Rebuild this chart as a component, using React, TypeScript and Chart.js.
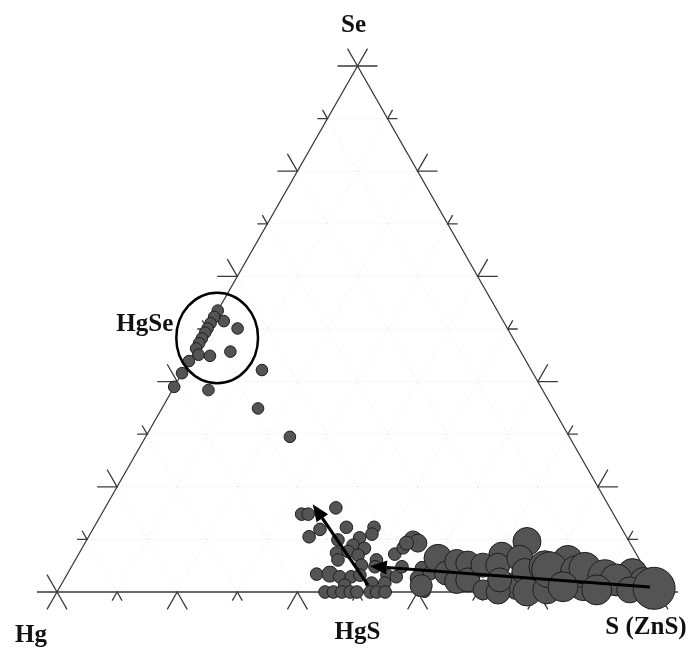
import React, { useEffect, useRef } from "react";
import { Chart, registerables } from "chart.js";
Chart.register(...registerables);

// Ternary composition (fractions): Se, S (Hg = 1 - Se - S), and bubble radius
const seFrac = [
  0.535, 0.515, 0.501, 0.523, 0.511, 0.501, 0.493, 0.482, 0.473, 0.463, 0.451, 0.449, 0.457, 0.439, 0.416, 0.39, 0.384, 0.422, 0.349, 0.295,
  0.148, 0.148, 0.16, 0.105, 0.119, 0.123, 0.123, 0.11, 0.099, 0.103, 0.089, 0.083, 0.074, 0.061, 0.077, 0.07, 0.051, 0.034, 0.034, 0.029, 0.029, 0.032, 0.061, 0.048, 0.032, 0.017, 0.029, 0.017, 0.013,
  0, 0, 0, 0, 0, 0, 0, 0,
  0.072, 0.084, 0.099, 0.093, 0.093, 0.048, 0.045, 0.026, 0.036, 0,
  0.012, 0.07, 0.012, 0.06, 0.012, 0.035,
  0.064, 0.036, 0.02, 0.058, 0.055, 0.023, 0.051, 0.004, 0.051, 0, 0.023, 0.096, 0.064, 0.039, 0, 0.048, 0.004, 0.042, 0.039, 0.045, 0.029, 0.023, 0.01, 0.004, 0.02, 0.004, 0.007,
];
const sFrac = [
  0, 0.02, 0.05, 0, 0, 0, 0, 0, 0, 0, 0.01, 0.03, 0.06, 0, 0, 0, 0.06, 0.13, 0.16, 0.24,
  0.333, 0.344, 0.384, 0.367, 0.378, 0.42, 0.466, 0.469, 0.418, 0.452, 0.448, 0.47, 0.428, 0.437, 0.446, 0.466, 0.481, 0.415, 0.437, 0.456, 0.475, 0.488, 0.501, 0.505, 0.533, 0.537, 0.55, 0.515, 0.472,
  0.446, 0.46, 0.474, 0.488, 0.499, 0.521, 0.532, 0.546,
  0.526, 0.534, 0.543, 0.554, 0.535, 0.55, 0.585, 0.588, 0.603, 0.612,
  0.6, 0.705, 0.76, 0.82, 0.87, 0.94,
  0.602, 0.63, 0.655, 0.636, 0.656, 0.672, 0.683, 0.707, 0.708, 0.734, 0.725, 0.734, 0.738, 0.759, 0.782, 0.788, 0.813, 0.799, 0.845, 0.856, 0.897, 0.919, 0.837, 0.896, 0.966, 0.951, 0.99,
];
const radius = [
  5.8, 5.8, 5.8, 5.8, 5.8, 5.8, 5.8, 5.8, 5.8, 5.8, 5.8, 5.8, 5.8, 5.8, 5.8, 5.8, 5.8, 5.8, 5.8, 5.8,
  6.3, 6.3, 6.3, 6.3, 6.3, 6.3, 6.3, 6.3, 6.3, 6.3, 6.3, 6.3, 6.3, 6.3, 6.3, 6.3, 6.3, 6.3, 8, 6.3, 6.3, 6.3, 6.3, 6.3, 6.3, 6.3, 6.3, 6.3, 6.3,
  6.3, 6.3, 6.3, 6.3, 6.3, 6.3, 6.3, 6.3,
  6.3, 6.3, 9, 9, 7, 6.3, 7, 8, 7, 5.5,
  11, 13, 14, 15, 15, 15,
  14, 12, 12, 12, 12, 12, 12, 10, 12, 12, 12, 14, 13, 13, 14, 16, 14, 18, 16, 16, 17, 16, 15, 15, 14, 13, 21,
];

// Arrows: [seFrom, sFrom, seTo, sTo]
const arrows = [
  [0.0095, 0.982, 0.049, 0.496],
  [0.013, 0.511, 0.167, 0.342],
];
// Circle around HgSe cluster: Se, S, radius in x-units, radius in y-units
const circle = { se: 0.483, s: 0.025, rx: 0.068, ry: 0.086 };
const tickSteps = [0, 1, 2, 3, 4, 5, 6, 7, 8, 9, 10];
const gridSteps = [1, 2, 3, 4, 5, 6, 7, 8, 9];

const toX = (s: number, se: number) => s + se / 2;

const XMIN = -57 / 601;
const XMAX = XMIN + 689 / 601;
const YMAX = 1 + 66 / 526;
const YMIN = YMAX - 648 / 526;

const ternaryPlugin = {
  id: "ternary",
  beforeDatasetsDraw(chart: any) {
    const { ctx, scales } = chart;
    const xs = scales.x, ys = scales.y;
    const P = (s: number, se: number) => [xs.getPixelForValue(toX(s, se)), ys.getPixelForValue(se)];
    ctx.save();
    ctx.strokeStyle = "rgba(0,0,0,0.06)";
    ctx.lineWidth = 1;
    ctx.setLineDash([2, 2]);
    gridSteps.forEach((k) => {
      const f = k / 10;
      const lines = [
        [P(0, f), P(1 - f, f)],
        [P(f, 0), P(f, 1 - f)],
        [P(1 - f, 0), P(0, 1 - f)],
      ];
      lines.forEach(([a, b]) => {
        ctx.beginPath();
        ctx.moveTo(a[0], a[1]);
        ctx.lineTo(b[0], b[1]);
        ctx.stroke();
      });
    });
    ctx.setLineDash([]);
    ctx.strokeStyle = "#3a3a3a";
    ctx.lineWidth = 1.3;
    const A = P(0, 0), B = P(1, 0), C = P(0, 1);
    ctx.beginPath();
    ctx.moveTo(A[0], A[1]);
    ctx.lineTo(B[0], B[1]);
    ctx.lineTo(C[0], C[1]);
    ctx.closePath();
    ctx.stroke();
    const c = 0.5, sn = 0.866;
    tickSteps.forEach((k) => {
      const f = k / 10;
      const L = k % 2 === 0 ? 20 : 10;
      ctx.beginPath();
      const b = P(f, 0);
      ctx.moveTo(b[0] - L * c, b[1] + L * sn);
      ctx.lineTo(b[0], b[1]);
      ctx.lineTo(b[0] + L * c, b[1] + L * sn);
      const l = P(0, f);
      ctx.moveTo(l[0] - L, l[1]);
      ctx.lineTo(l[0], l[1]);
      ctx.lineTo(l[0] - L * c, l[1] - L * sn);
      const r = P(1 - f, f);
      ctx.moveTo(r[0] + L, r[1]);
      ctx.lineTo(r[0], r[1]);
      ctx.lineTo(r[0] + L * c, r[1] - L * sn);
      ctx.stroke();
    });
    ctx.restore();
  },
  afterDatasetsDraw(chart: any) {
    const { ctx, scales } = chart;
    const xs = scales.x, ys = scales.y;
    const P = (s: number, se: number) => [xs.getPixelForValue(toX(s, se)), ys.getPixelForValue(se)];
    ctx.save();
    ctx.strokeStyle = "#000";
    ctx.fillStyle = "#000";
    ctx.lineWidth = 3.2;
    arrows.forEach(([se0, s0, se1, s1]) => {
      const a = P(s0, se0), b = P(s1, se1);
      const ang = Math.atan2(b[1] - a[1], b[0] - a[0]);
      const hl = 17, hw = 7;
      const bx = b[0] - hl * Math.cos(ang), by = b[1] - hl * Math.sin(ang);
      ctx.beginPath();
      ctx.moveTo(a[0], a[1]);
      ctx.lineTo(bx, by);
      ctx.stroke();
      ctx.beginPath();
      ctx.moveTo(b[0], b[1]);
      ctx.lineTo(bx + hw * Math.sin(ang), by - hw * Math.cos(ang));
      ctx.lineTo(bx - hw * Math.sin(ang), by + hw * Math.cos(ang));
      ctx.closePath();
      ctx.fill();
    });
    const cc = P(circle.s, circle.se);
    const rxp = Math.abs(xs.getPixelForValue(circle.rx) - xs.getPixelForValue(0));
    const ryp = Math.abs(ys.getPixelForValue(circle.ry) - ys.getPixelForValue(0));
    ctx.lineWidth = 2.5;
    ctx.beginPath();
    ctx.ellipse(cc[0], cc[1], rxp, ryp, 0, 0, Math.PI * 2);
    ctx.stroke();
    ctx.fillStyle = "#111";
    ctx.font = "bold 25px 'Liberation Serif', 'DejaVu Serif', serif";
    ctx.textBaseline = "alphabetic";
    ctx.textAlign = "center";
    const se = P(0, 1);
    ctx.fillText("Se", se[0] - 4, se[1] - 34);
    const hg = P(0, 0);
    ctx.fillText("Hg", hg[0] - 26, hg[1] + 50);
    const hgs = P(0.5, 0);
    ctx.fillText("HgS", hgs[0], hgs[1] + 47);
    const sv = P(1, 0);
    ctx.fillText("S (ZnS)", sv[0] - 12, sv[1] + 42);
    const hgse = P(0, 0.5);
    ctx.textAlign = "right";
    ctx.fillText("HgSe", hgse[0] - 34, hgse[1] + 2);
    ctx.restore();
  },
};

export default function App() {
  const ref = useRef<HTMLCanvasElement>(null);
  useEffect(() => {
    if (!ref.current) return;
    const data = seFrac.map((se, i) => ({ x: toX(sFrac[i], se), y: se, r: radius[i] }));
    const chart = new Chart(ref.current, {
      type: "bubble",
      data: {
        datasets: [
          {
            data,
            backgroundColor: "rgb(84,84,84)",
            borderColor: "rgb(30,30,30)",
            borderWidth: 1,
            clip: false as any,
          },
        ],
      },
      options: {
        animation: false,
        responsive: false,
        layout: { padding: 0, autoPadding: false } as any,
        scales: {
          x: { type: "linear", display: false, min: XMIN, max: XMAX },
          y: { type: "linear", display: false, min: YMIN, max: YMAX },
        },
        plugins: { legend: { display: false }, tooltip: { enabled: false } },
      },
      plugins: [ternaryPlugin],
    });
    return () => chart.destroy();
  }, []);
  return (
    <div style={{ position: "fixed", left: 0, top: 0, width: 689, height: 648, background: "#fff" }}>
      <canvas ref={ref} width={689} height={648} style={{ width: 689, height: 648, display: "block" }} />
    </div>
  );
}
